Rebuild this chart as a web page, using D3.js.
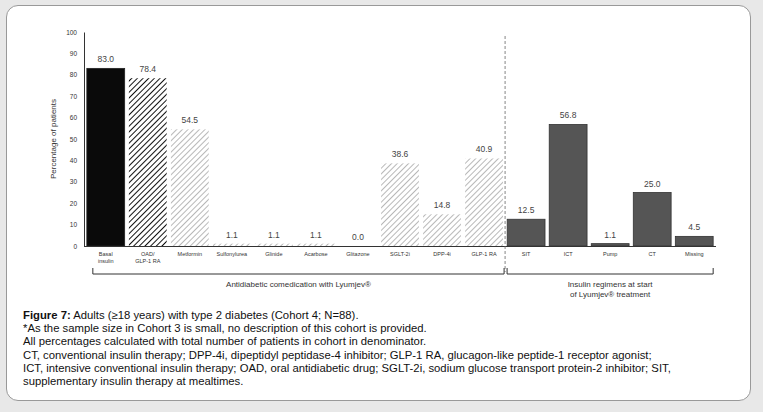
<!DOCTYPE html>
<html><head><meta charset="utf-8">
<script src="https://cdn.jsdelivr.net/npm/d3@7"></script>
<style>
body{margin:0;background:#e8e8e8;font-family:"Liberation Sans",Arial,sans-serif}
#card{position:absolute;left:6px;top:5px;width:745px;height:396px;background:#fff;border:1px solid #999;border-radius:12px;box-sizing:border-box}
#cap{position:absolute;left:23px;top:309px;width:712px;font-size:11.3px;line-height:13.2px;color:#111}
</style></head><body>
<div id="card"></div>
<svg id="chart" width="763" height="305" style="position:absolute;left:0;top:0"></svg>
<div id="cap"><b>Figure 7:</b> Adults (≥18 years) with type 2 diabetes (Cohort 4; N=88).<br>*As the sample size in Cohort 3 is small, no description of this cohort is provided.<br>All percentages calculated with total number of patients in cohort in denominator.<br>CT, conventional insulin therapy; DPP-4i, dipeptidyl peptidase-4 inhibitor; GLP-1 RA, glucagon-like peptide-1 receptor agonist;<br>ICT, intensive conventional insulin therapy; OAD, oral antidiabetic drug; SGLT-2i, sodium glucose transport protein-2 inhibitor; SIT,<br>supplementary insulin therapy at mealtimes.</div>
<script>
var categories = ["Basal\ninsulin","OAD/\nGLP-1 RA","Metformin","Sulfonylurea","Glinide","Acarbose","Glitazone","SGLT-2i","DPP-4i","GLP-1 RA","SIT","ICT","Pump","CT","Missing"];
var values = [83.0,78.4,54.5,1.1,1.1,1.1,0.0,38.6,14.8,40.9,12.5,56.8,1.1,25.0,4.5];
var fills = ["black","hatchDark","hatchLight","hatchLight","hatchLight","hatchLight","hatchLight","hatchLight","hatchLight","hatchLight","grey","grey","grey","grey","grey"];
var yTicks = [0,10,20,30,40,50,60,70,80,90,100];
var groups = [{label:["Antidiabetic comedication with Lyumjev®"], from:0, to:9},
              {label:["Insulin regimens at start","of Lyumjev® treatment"], from:10, to:14}];

var svg = d3.select("#chart");
var defs = svg.append("defs");
function hatch(id, col, w){
  var p = defs.append("pattern").attr("id", id).attr("patternUnits","userSpaceOnUse")
    .attr("width",4).attr("height",4).attr("patternTransform","rotate(45)");
  p.append("rect").attr("width",4).attr("height",4).attr("fill","#fff");
  p.append("line").attr("x1",0).attr("y1",0).attr("x2",0).attr("y2",4).attr("stroke",col).attr("stroke-width",w);
}
hatch("hatchDark","#111",2);
hatch("hatchLight","#a0a0a0",1.5);
var fillOf = {black:"#0a0a0a", hatchDark:"url(#hatchDark)", hatchLight:"url(#hatchLight)", grey:"#555"};
var strokeOf = {black:"#222", hatchDark:"none", hatchLight:"none", grey:"#333"};

var x = d3.scaleBand().domain(d3.range(categories.length)).range([86, 714]).paddingInner(0.1).paddingOuter(0.02);
var y = d3.scaleLinear().domain([0,100]).range([246, 32]);

var ya = svg.append("g").attr("transform","translate(84,0)")
  .call(d3.axisLeft(y).tickValues(yTicks).tickSize(0).tickPadding(7));
ya.select(".domain").attr("stroke","#333");
ya.selectAll("text").attr("font-size",6.5).attr("fill","#333");

svg.selectAll(".bar").data(values).enter().append("rect")
  .attr("x",(d,i)=>x(i)).attr("width",x.bandwidth())
  .attr("y",d=>y(d)).attr("height",d=>y(0)-y(d))
  .attr("fill",(d,i)=>fillOf[fills[i]]).attr("stroke",(d,i)=>strokeOf[fills[i]]).attr("stroke-width",0.8);

svg.append("line").attr("x1",84).attr("x2",716).attr("y1",246.5).attr("y2",246.5).attr("stroke","#333");

svg.append("text").attr("transform","translate(56,139) rotate(-90)").attr("text-anchor","middle")
  .attr("font-size",8).attr("fill","#333").text("Percentage of patients");

svg.selectAll(".val").data(values).enter().append("text")
  .attr("x",(d,i)=>x(i)+x.bandwidth()/2).attr("y",d=>y(d)-6)
  .attr("text-anchor","middle").attr("font-size",8.5).attr("fill","#444").text(d=>d.toFixed(1));

svg.selectAll(".cat").data(categories).enter().append("text")
  .attr("x",(d,i)=>x(i)+x.bandwidth()/2).attr("y",256)
  .attr("text-anchor","middle").attr("font-size",5.5).attr("fill","#333")
  .each(function(d){ var t=d3.select(this); d.split("\n").forEach((s,k)=>t.append("tspan").attr("x",t.attr("x")).attr("dy",k?7:0).text(s)); });

var sepX = (x(9)+x.bandwidth()+x(10))/2;
svg.append("line").attr("x1",sepX).attr("x2",sepX).attr("y1",36).attr("y2",272)
  .attr("stroke","#666").attr("stroke-dasharray","3,2").attr("stroke-width",0.8);

groups.forEach(function(g,k){
  var a = x(g.from)+6, b = k===0 ? sepX-1 : x(g.to)+x.bandwidth();
  if(k===1) a = sepX+2;
  svg.append("path").attr("d",`M${a},268V274H${b}V268`).attr("fill","none").attr("stroke","#333").attr("stroke-width",1);
  g.label.forEach((s,j)=>svg.append("text").attr("x",(a+b)/2).attr("y",287+j*10)
    .attr("text-anchor","middle").attr("font-size",8).attr("fill","#333").text(s));
});
</script></body></html>
